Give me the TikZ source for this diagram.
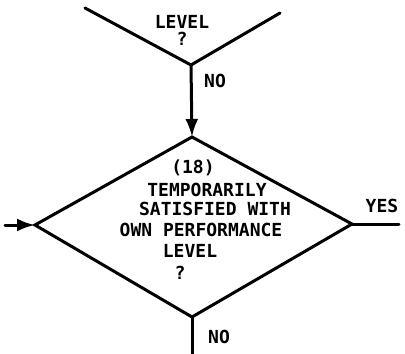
\documentclass[tikz,border=0pt]{standalone}
\usepackage{fontspec}
\newfontfamily\lett{DejaVu Sans Mono}
\usetikzlibrary{arrows.meta}
\begin{document}
\begin{tikzpicture}[x=1pt,y=-1pt,
  ln/.style={line width=3pt,line cap=round},
  arr/.style={ln,-{Latex[length=18pt,width=13pt]}},
  txt/.style={font=\lett\bfseries\fontsize{18}{21}\selectfont,inner sep=0pt}]
\useasboundingbox (0,0) rectangle (405,354);
% top diamond (partly shown)
\coordinate (tl) at (85,8);
\coordinate (tr) at (280,13);
\coordinate (tb) at (191,65);
\draw[ln] (tl) -- (tb) -- (tr);
\node[txt] (t1) at (182,22) {LEVEL};
\node[txt] (t2) at (182,39) {?};
\node[txt] (no1) at (215,81) {NO};
% bottom diamond
\coordinate (dt) at (192,137);
\coordinate (dl) at (35,225);
\coordinate (dr) at (352,224);
\coordinate (db) at (192,317);
\draw[ln,line join=miter] (dt) -- (dr) -- (db) -- (dl) -- cycle;
\draw[arr] (tb) -- (dt);
\coordinate (in) at (5,225);
\draw[arr] (in) -- (dl);
\coordinate (yesend) at (399,224);
\draw[ln] (dr) -- (yesend);
\node[txt] (yes) at (382,206) {YES};
\coordinate (botend) at (192,354);
\draw[ln] (db) -- (botend);
\node[txt] (no2) at (219,337) {NO};
% text
\node[txt] (l1) at (193,168) {(18)};
\node[txt] (l2) at (207,190) {TEMPORARILY};
\node[txt] (l3) at (215,209) {SATISFIED WITH};
\node[txt] (l4) at (201,230) {OWN PERFORMANCE};
\node[txt] (l5) at (190,251) {LEVEL};
\node[txt] (l6) at (180,273) {?};
\end{tikzpicture}
\end{document}
